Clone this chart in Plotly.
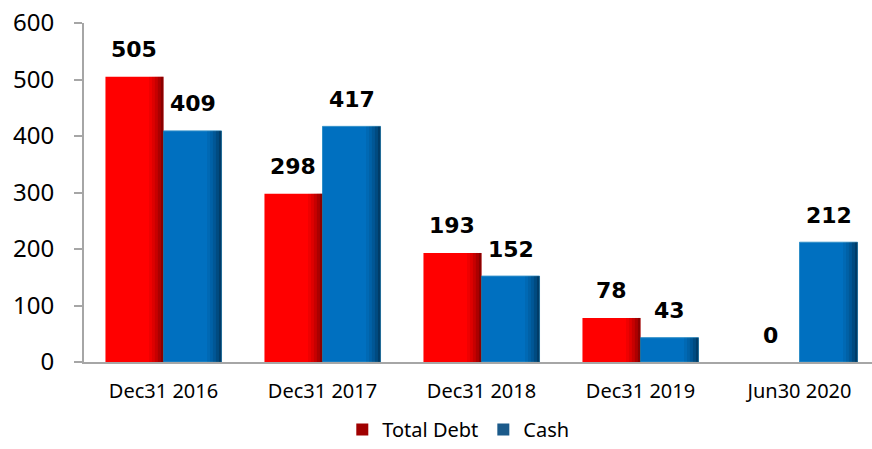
import plotly.graph_objects as go

# Debt vs cash position by reporting date
categories = ["Dec31 2016", "Dec31 2017", "Dec31 2018", "Dec31 2019", "Jun30 2020"]
total_debt = [505, 298, 193, 78, 0]
cash = [409, 417, 152, 43, 212]
y_ticks = [0, 100, 200, 300, 400, 500, 600]

positions = list(range(len(categories)))

BAR_W = 0.365          # width of one bar, in category units
RED = "#FF0000"
BLUE = "#0070C0"
FONT = "Noto Sans"
BOLD_FONT = "DejaVu Sans"
AXIS_GREY = "#A6A6A6"

fig = go.Figure()

series = [
    ("Total Debt", total_debt, RED, None, -BAR_W, "#A00000"),
    ("Cash", cash, BLUE, "#2F8FC8", 0.0, "#1B5A8A"),
]

# main bars
for name, values, color, edge, off, _ in series:
    fig.add_trace(go.Bar(
        x=positions, y=values, width=BAR_W, offset=off,
        marker=dict(color=color,
                    line=dict(color=edge or color, width=1 if edge else 0)),
        showlegend=False, hoverinfo="skip", name=name,
    ))

# darkened strips along the right edge of each bar (shaded look)
shade_steps = [0.06, 0.13, 0.22, 0.33, 0.46]
strip_frac = 0.05
for name, values, color, edge, off, _ in series:
    for k, alpha in enumerate(shade_steps):
        start = off + BAR_W * (1 - strip_frac * (len(shade_steps) - k))
        fig.add_trace(go.Bar(
            x=positions, y=values, width=BAR_W * strip_frac, offset=start,
            marker=dict(color=f"rgba(0,0,0,{alpha})", line=dict(width=0)),
            showlegend=False, hoverinfo="skip",
        ))

# legend entries with the darker swatch colour
for name, values, color, edge, off, swatch in series:
    fig.add_trace(go.Bar(x=[None], y=[None], name=name,
                         marker=dict(color=swatch, line=dict(width=0))))

# value labels above each bar
for name, values, color, edge, off, _ in series:
    for xi, v in zip(positions, values):
        fig.add_annotation(
            x=xi + off + BAR_W / 2, y=v, text=f"<b>{v}</b>",
            showarrow=False, yanchor="middle", yshift=27,
            font=dict(family=BOLD_FONT, size=22, color="#000000"),
        )

fig.update_layout(
    width=872, height=449,
    margin=dict(l=84, r=0, t=23, b=87, autoexpand=False),
    barmode="overlay",
    plot_bgcolor="white", paper_bgcolor="white",
    font=dict(family=FONT, color="#000000"),
    showlegend=True,
    legend=dict(orientation="h", x=0.475, xanchor="center",
                yref="container", y=-0.012, yanchor="bottom",
                font=dict(family=FONT, size=20), itemwidth=30,
                tracegroupgap=0),
)

fig.update_xaxes(
    range=[-0.5, 4.456],
    tickmode="array", tickvals=positions, ticktext=categories,
    showline=True, linecolor=AXIS_GREY, linewidth=2,
    ticks="", showgrid=False, zeroline=False,
    tickfont=dict(family=FONT, size=20),
    ticklabelstandoff=10, automargin=False,
)

fig.update_yaxes(
    range=[0, 600],
    tickmode="array", tickvals=y_ticks,
    showline=True, linecolor=AXIS_GREY, linewidth=2,
    ticks="outside", ticklen=8, tickcolor=AXIS_GREY, tickwidth=2,
    showgrid=False, zeroline=False,
    tickfont=dict(family=FONT, size=24),
    ticklabelstandoff=15, automargin=False,
)

fig.write_html("out.html")
